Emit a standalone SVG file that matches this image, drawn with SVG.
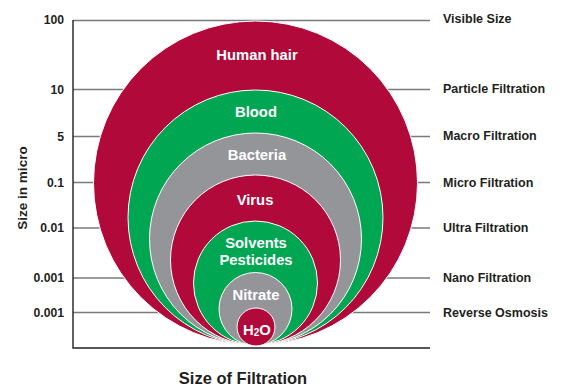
<svg xmlns="http://www.w3.org/2000/svg" width="561" height="386" viewBox="0 0 561 386">
<style>
.grid{stroke:#7a7a7a;stroke-width:1.4;fill:none}
.axis{stroke:#231f20;stroke-width:1.4;fill:none}
.c{stroke:#ffffff;stroke-width:1}
.red{fill:#b0093a}
.green{fill:#00a651}
.gray{fill:#939598}
.in{font-family:"Liberation Sans",Arial,sans-serif;font-weight:bold;font-size:14.8px;fill:#ffffff;text-anchor:middle}
.lv{font-family:"Liberation Sans",Arial,sans-serif;font-weight:bold;font-size:12.2px;fill:#231f20;text-anchor:end}
.rl{font-family:"Liberation Sans",Arial,sans-serif;font-weight:bold;font-size:12.5px;fill:#231f20}
</style>
<rect width="561" height="386" fill="#ffffff"/>
<g id="connectors">
<line class="grid" x1="73" y1="20.5" x2="430" y2="20.5"/>
<line class="grid" x1="73" y1="89.5" x2="430" y2="89.5"/>
<line class="grid" x1="73" y1="136.5" x2="430" y2="136.5"/>
<line class="grid" x1="73" y1="182.5" x2="430" y2="182.5"/>
<line class="grid" x1="73" y1="228" x2="430" y2="228"/>
<line class="grid" x1="73" y1="278" x2="430" y2="278"/>
<line class="grid" x1="73" y1="312.5" x2="430" y2="312.5"/>
<polyline class="axis" points="73,20 73,348 430,348"/>
</g>
<g id="human-hair"><circle class="c red" cx="255.5" cy="183" r="162"/><text class="in" x="257" y="60">Human hair</text></g>
<g id="blood"><circle class="c green" cx="255.5" cy="217.5" r="127.5"/><text class="in" x="256" y="117">Blood</text></g>
<g id="bacteria"><circle class="c gray" cx="255.5" cy="239" r="106"/><text class="in" x="257" y="160">Bacteria</text></g>
<g id="virus"><circle class="c red" cx="255.5" cy="260" r="85"/><text class="in" x="255" y="205">Virus</text></g>
<g id="solvents"><circle class="c green" cx="255.5" cy="283" r="62"/><text class="in" x="256" y="248">Solvents</text><text class="in" x="256" y="265">Pesticides</text></g>
<g id="nitrate"><circle class="c gray" cx="255.5" cy="309" r="36.5"/><text class="in" x="256" y="300">Nitrate</text></g>
<g id="h2o"><circle class="c red" cx="256" cy="327" r="19"/><text class="in" x="257" y="335">H<tspan font-size="10" dy="1">2</tspan><tspan dy="-1">O</tspan></text></g>
<g id="left-labels">
<text class="lv" x="64" y="24">100</text>
<text class="lv" x="64" y="94">10</text>
<text class="lv" x="64" y="141">5</text>
<text class="lv" x="64" y="187">0.1</text>
<text class="lv" x="64" y="232">0.01</text>
<text class="lv" x="64" y="282">0.001</text>
<text class="lv" x="64" y="317">0.001</text>
<text font-family="Liberation Sans,Arial,sans-serif" font-weight="bold" font-size="13.5" fill="#231f20" text-anchor="middle" transform="translate(26.5,188) rotate(-90)">Size in micro</text>
</g>
<g id="right-labels">
<text class="rl" x="443" y="23">Visible Size</text>
<text class="rl" x="443" y="93">Particle Filtration</text>
<text class="rl" x="443" y="140">Macro Filtration</text>
<text class="rl" x="443" y="187">Micro Filtration</text>
<text class="rl" x="443" y="232">Ultra Filtration</text>
<text class="rl" x="443" y="282">Nano Filtration</text>
<text class="rl" x="443" y="317">Reverse Osmosis</text>
</g>
<text font-family="Liberation Sans,Arial,sans-serif" font-weight="bold" font-size="16.5" fill="#231f20" text-anchor="middle" x="243" y="384">Size of Filtration</text>
</svg>
